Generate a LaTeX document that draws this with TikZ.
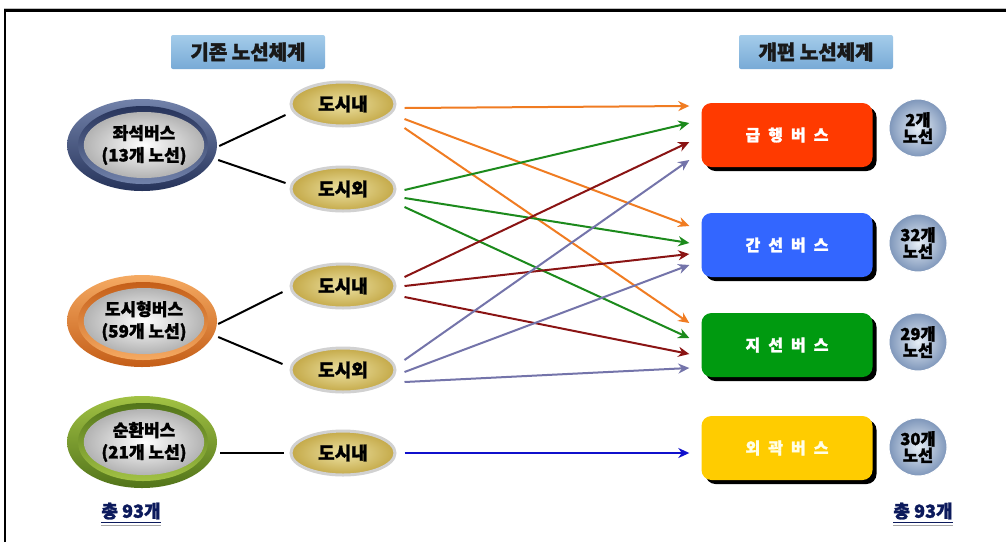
\documentclass[tikz,border=0pt]{standalone}
\usepackage{fontspec}
\setmainfont{Noto Sans CJK KR}[BoldFeatures={FakeBold=1.5}]
\usetikzlibrary{shapes.geometric,arrows.meta,shadows}
\definecolor{navyL}{HTML}{7282AA}
\definecolor{navyD}{HTML}{26335A}
\definecolor{oranL}{HTML}{F5AA62}
\definecolor{oranD}{HTML}{C45E18}
\definecolor{grnL}{HTML}{A2C244}
\definecolor{grnD}{HTML}{52741A}
\definecolor{goldIn}{HTML}{EDE2A4}
\definecolor{goldOut}{HTML}{C4A948}
\definecolor{titleT}{HTML}{A4CCEA}
\definecolor{titleB}{HTML}{78AAD6}
\definecolor{expC}{HTML}{FF3A00}
\definecolor{trkC}{HTML}{3366FF}
\definecolor{brC}{HTML}{009A10}
\definecolor{subC}{HTML}{FFCC00}
\definecolor{aOr}{HTML}{F07C22}
\definecolor{aGr}{HTML}{1C8A1C}
\definecolor{aRd}{HTML}{8A1414}
\definecolor{aPu}{HTML}{7474AA}
\definecolor{aBl}{HTML}{1010CC}
\definecolor{totC}{HTML}{0C1A5C}
\definecolor{ballIn}{HTML}{E6EEF6}
\definecolor{ballOut}{HTML}{7E96BA}
\begin{document}
\begin{tikzpicture}[x=1pt,y=-1pt,
  titlebox/.style={rectangle, rounded corners=2pt, minimum width=154pt, minimum height=34pt,
    top color=titleT, bottom color=titleB, font=\bfseries\fontsize{20}{22}\selectfont, text=black!90},
  ringout/.style={ellipse, minimum width=150pt, minimum height=92pt, inner sep=0pt},
  ringmid/.style={ellipse, minimum width=130pt, minimum height=78pt, inner sep=0pt},
  inner/.style={ellipse, minimum width=110pt, minimum height=66pt, inner sep=0pt,
    inner color=white, outer color=black!30, align=center,
    font=\bfseries\fontsize{17}{22}\selectfont},
  gold/.style={ellipse, minimum width=104pt, minimum height=44pt, inner sep=0pt,
    draw=black!18, line width=3pt, inner color=goldIn, outer color=goldOut,
    font=\bfseries\fontsize{18}{20}\selectfont},
  busbox/.style={rectangle, rounded corners=10pt, minimum width=171pt, minimum height=64pt,
    text=white, font=\bfseries\fontsize{16}{18}\selectfont,
    general shadow={shadow xshift=4pt, shadow yshift=-4pt, fill=black}},
  cnt/.style={circle, minimum size=58pt, inner sep=0pt, inner color=ballIn, outer color=ballOut,
    align=center, draw=white, line width=1pt, font=\bfseries\fontsize{16.5}{16.5}\selectfont},
  total/.style={inner sep=0pt, text=totC, font=\bfseries\fontsize{18}{18}\selectfont},
  conn/.style={line width=2pt, black},
  arr/.style={line width=2pt, -{Stealth[length=11pt,width=10pt,inset=3.5pt]}}
]
\useasboundingbox (0,0) rectangle (1006,542);
\fill[white] (0,0) rectangle (1006,542);
\draw[black!25, line width=1pt] (4,8) -- (1006,8);
\draw[black, line width=2.5pt] (5,542) -- (5,10.5) -- (1006,10.5);

% titles
\node[titlebox] (t1) at (248,52) {기존 노선체계};
\node[titlebox] (t2) at (816,52) {개편 노선체계};

% big ellipses
\node[ringout, top color=navyL, bottom color=navyD] (z1o) at (142,145) {};
\node[ringmid, top color=navyD, bottom color=navyL] (z1m) at (143,145) {};
\node[inner] (z1) at (144,145) {좌석버스\\(13개 노선)};

\node[ringout, top color=oranL, bottom color=oranD] (z2o) at (142,321) {};
\node[ringmid, top color=oranD, bottom color=oranL] (z2m) at (143,321) {};
\node[inner] (z2) at (144,321) {도시형버스\\(59개 노선)};

\node[ringout, top color=grnL, bottom color=grnD] (z3o) at (142,442) {};
\node[ringmid, top color=grnD, bottom color=grnL] (z3m) at (143,442) {};
\node[inner] (z3) at (144,442) {순환버스\\(21개 노선)};

% gold ellipses
\node[gold] (d1) at (343,104) {도시내};
\node[gold] (d2) at (343,189) {도시외};
\node[gold] (d3) at (343,286) {도시내};
\node[gold] (d4) at (343,370) {도시외};
\node[gold] (d5) at (343,453) {도시내};

% black connectors
\draw[conn] ([xshift=2pt,yshift=-1pt]z1o.east) -- ([xshift=-4pt,yshift=-11pt]d1.west);
\draw[conn] ([xshift=1pt,yshift=-15pt]z1o.east) -- ([xshift=-4pt,yshift=6pt]d2.west);
\draw[conn] ([xshift=1pt,yshift=-3pt]z2o.east) -- ([xshift=-7pt,yshift=-6pt]d3.west);
\draw[conn] ([xshift=1pt,yshift=-16pt]z2o.east) -- ([xshift=-7pt,yshift=6pt]d4.west);
\draw[conn] ([xshift=3pt,yshift=-11pt]z3o.east) -- ([xshift=-6pt]d5.west);

% new system boxes
\node[busbox, fill=expC] (b1) at (787,135) {급\enspace 행\enspace 버\enspace 스};
\node[busbox, fill=trkC] (b2) at (787,245) {간\enspace 선\enspace 버\enspace 스};
\node[busbox, fill=brC] (b3) at (787,345) {지\enspace 선\enspace 버\enspace 스};
\node[busbox, fill=subC, text=white!90!yellow] (b4) at (787,448) {외\enspace 곽\enspace 버\enspace 스};

% counts
\node[cnt] (c1) at (918,128) {2개\\노선};
\node[cnt] (c2) at (918,243) {32개\\노선};
\node[cnt] (c3) at (918,342) {29개\\노선};
\node[cnt] (c4) at (918,447) {30개\\노선};

% arrows
\draw[arr, aOr] ([xshift=8pt,yshift=-4pt]d1.east) -- ([xshift=-12pt,yshift=29pt]b1.west);
\draw[arr, aOr] ([xshift=8pt,yshift=-15pt]d1.east) -- ([xshift=-12pt,yshift=19pt]b2.west);
\draw[arr, aOr] ([xshift=8pt,yshift=-24pt]d1.east) -- ([xshift=-12pt,yshift=22pt]b3.west);
\draw[arr, aGr] ([xshift=8pt,yshift=-1pt]d2.east) -- ([xshift=-12pt,yshift=12pt]b1.west);
\draw[arr, aGr] ([xshift=8pt,yshift=-9pt]d2.east) -- ([xshift=-12pt,yshift=2pt]b2.west);
\draw[arr, aGr] ([xshift=8pt,yshift=-18pt]d2.east) -- ([xshift=-12pt,yshift=7pt]b3.west);
\draw[arr, aRd] ([xshift=8pt,yshift=9pt]d3.east) -- ([xshift=-12pt,yshift=-7pt]b1.west);
\draw[arr, aRd] ([xshift=8pt,yshift=0pt]d3.east) -- ([xshift=-12pt,yshift=-9pt]b2.west);
\draw[arr, aRd] ([xshift=8pt,yshift=-11pt]d3.east) -- ([xshift=-12pt,yshift=-9pt]b3.west);
\draw[arr, aPu] ([xshift=8pt,yshift=10pt]d4.east) -- ([xshift=-12pt,yshift=-25pt]b1.west);
\draw[arr, aPu] ([xshift=8pt,yshift=-2pt]d4.east) -- ([xshift=-12pt,yshift=-20pt]b2.west);
\draw[arr, aPu] ([xshift=8pt,yshift=-12pt]d4.east) -- ([xshift=-12pt,yshift=-23pt]b3.west);
\draw[arr, aBl] ([xshift=8pt]d5.east) -- ([xshift=-12pt,yshift=-5pt]b4.west);

% totals
\node[total] (f1) at (131,511) {총 93개};
\draw[totC, line width=1.5pt] ([yshift=-3pt]f1.south west) -- ([yshift=-3pt]f1.south east);
\draw[black!35, line width=1pt] ([yshift=-5.5pt]f1.south west) -- ([yshift=-5.5pt]f1.south east);
\node[total] (f2) at (923,511) {총 93개};
\draw[totC, line width=1.5pt] ([yshift=-3pt]f2.south west) -- ([yshift=-3pt]f2.south east);
\draw[black!35, line width=1pt] ([yshift=-5.5pt]f2.south west) -- ([yshift=-5.5pt]f2.south east);
\end{tikzpicture}
\end{document}
